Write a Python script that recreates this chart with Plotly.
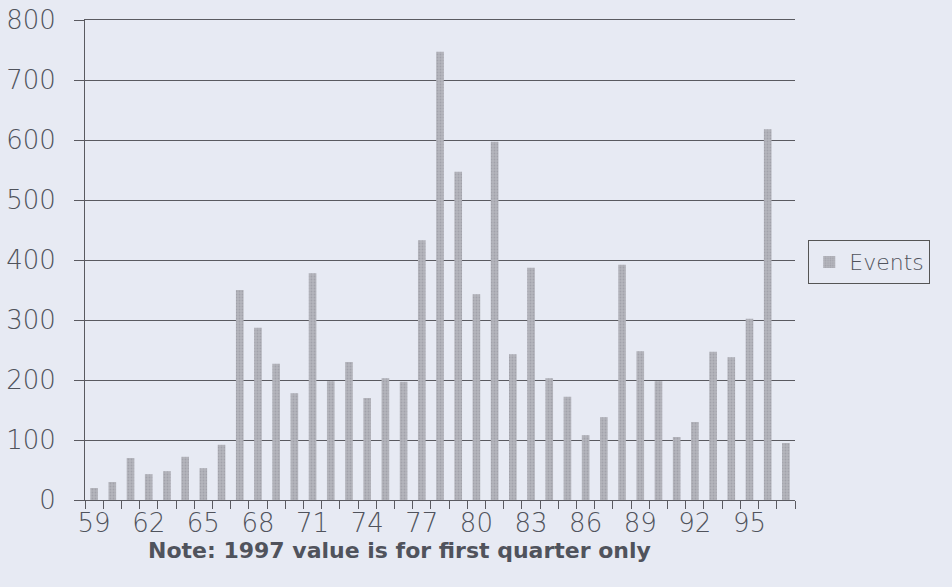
import plotly.graph_objects as go

years = list(range(59, 98))
events = [20, 30, 70, 43, 48, 72, 53, 92, 350, 287, 227, 178, 378, 198, 230,
          170, 203, 197, 433, 747, 547, 343, 597, 243, 387, 203, 172, 108, 138,
          392, 248, 198, 105, 130, 247, 238, 302, 618, 95]
label_years = list(range(59, 98, 3))
y_ticks = [0, 100, 200, 300, 400, 500, 600, 700, 800]

bg = "#e7eaf3"
txt = "#50535c"
grid = "#5a5a60"
tick_font = dict(size=26, color=txt, family="DejaVu Sans", weight=200)

fig = go.Figure()
fig.add_trace(go.Bar(
    x=years, y=events, name="Events", width=0.42,
    marker=dict(color="#a4a5ad", line=dict(width=0),
                pattern=dict(shape=".", fgcolor="#8e8f97", bgcolor="#b4b5bc", size=3, solidity=0.3)),
    showlegend=True,
))

fig.update_layout(
    width=952, height=587,
    paper_bgcolor=bg, plot_bgcolor=bg,
    margin=dict(l=85, r=157, t=20, b=87, autoexpand=False),
    font=dict(family="DejaVu Sans", color=txt),
    showlegend=True,
    legend=dict(xref="container", yref="container", x=0.849, y=0.591,
                xanchor="left", yanchor="top",
                bordercolor="#555", borderwidth=1, bgcolor=bg,
                font=dict(size=22, color=txt, family="DejaVu Sans", weight=200),
                itemwidth=30),
    bargap=0.5,
    annotations=[dict(
        xref="paper", yref="paper", x=(399 - 85) / 710, y=(500 - 550) / 480,
        xanchor="center", yanchor="middle", showarrow=False,
        text="<b>Note: 1997 value is for first quarter only</b>",
        font=dict(size=22, color=txt, family="DejaVu Sans"),
    )],
)
fig.update_xaxes(
    range=[58.5, 97.5], automargin=False,
    tickmode="array", tickvals=label_years, ticktext=[str(v) for v in label_years],
    ticks="", tickfont=tick_font, ticklabelstandoff=0,
    minor=dict(ticks="outside", tick0=58.5, dtick=1, ticklen=8, tickcolor=grid, showgrid=False),
    showline=True, linecolor=grid, linewidth=1, showgrid=False, zeroline=False,
    mirror=True,
)
fig.update_yaxes(
    range=[0, 800], tickmode="array", tickvals=y_ticks, automargin=False,
    ticks="outside", ticklen=10, tickcolor=grid,
    tickfont=tick_font, ticklabelstandoff=13,
    showgrid=True, gridcolor=grid, gridwidth=1,
    showline=True, linecolor=grid, linewidth=1, zeroline=False,
)

fig.write_html("out.html", config={"displayModeBar": False},
               post_script="document.body.style.margin='0';document.body.style.background='%s';" % bg)
